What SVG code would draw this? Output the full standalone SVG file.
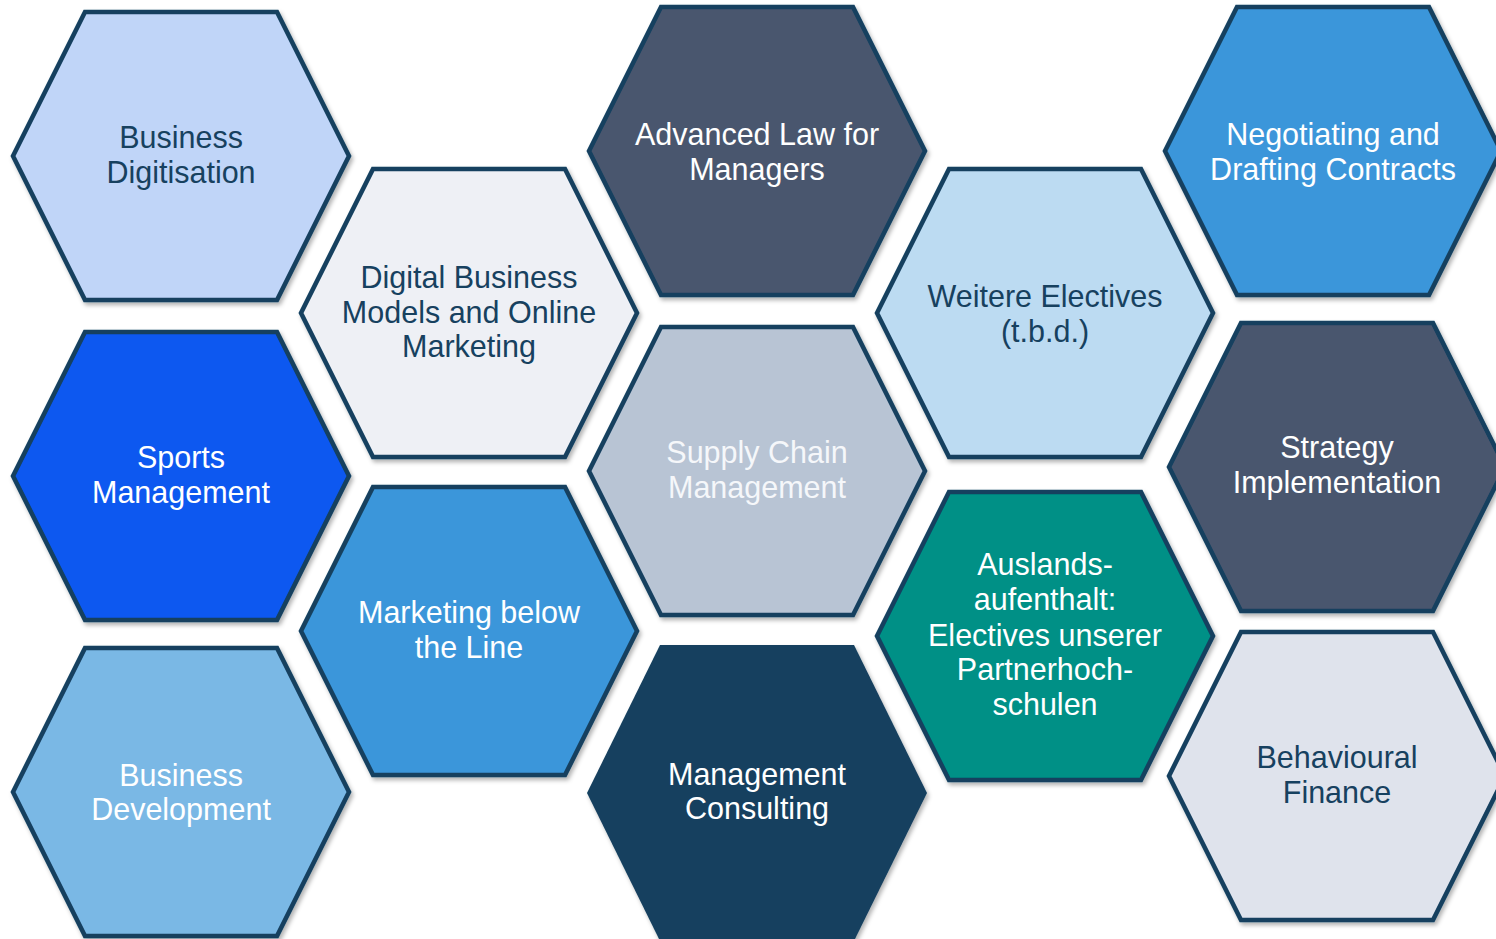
<svg xmlns="http://www.w3.org/2000/svg" xmlns:xlink="http://www.w3.org/1999/xlink" width="1496" height="939" viewBox="0 0 1496 939">
  <defs>
    <filter id="shadow" x="-10%" y="-10%" width="125%" height="125%">
      <feDropShadow dx="2" dy="3" stdDeviation="2.2" flood-color="#000000" flood-opacity="0.3"/>
    </filter>
    <polygon id="hex" points="-168,0 -96,-144 96,-144 168,0 96,144 -96,144"/>
    <polygon id="hex-ns" points="-170,0 -97,-148 97,-148 170,0 97,148 -97,148"/>
  </defs>
  <style>
    .hx { stroke: #143f5f; stroke-width: 4.5; stroke-linejoin: miter; filter: url(#shadow); }
    .hn { stroke: none; filter: url(#shadow); }
    text { font-family: "Liberation Sans", Arial, sans-serif; font-size: 30.5px; text-anchor: middle; }
    .dk { fill: #17415f; }
    .wt { fill: #ffffff; }
    .lt { fill: #f5f7fa; }
  </style>
  <rect width="1496" height="939" fill="#ffffff"/>

  <g id="connectors"></g>

  <g id="business-digitisation" transform="translate(181,156)">
    <use href="#hex" class="hx" fill="#c0d5f8"/>
    <text class="dk"><tspan x="0" y="-8">Business</tspan><tspan x="0" y="27">Digitisation</tspan></text>
  </g>

  <g id="sports-management" transform="translate(181,476)">
    <use href="#hex" class="hx" fill="#0b59f0"/>
    <text class="wt"><tspan x="0" y="-8">Sports</tspan><tspan x="0" y="27">Management</tspan></text>
  </g>

  <g id="business-development" transform="translate(181,792)">
    <use href="#hex" class="hx" fill="#7ab8e5"/>
    <text class="wt"><tspan x="0" y="-6">Business</tspan><tspan x="0" y="28">Development</tspan></text>
  </g>

  <g id="digital-business-models" transform="translate(469,313)">
    <use href="#hex" class="hx" fill="#eef0f5"/>
    <text class="dk"><tspan x="0" y="-25">Digital Business</tspan><tspan x="0" y="10">Models and Online</tspan><tspan x="0" y="44">Marketing</tspan></text>
  </g>

  <g id="marketing-below-the-line" transform="translate(469,631)">
    <use href="#hex" class="hx" fill="#3a96da"/>
    <text class="wt"><tspan x="0" y="-8">Marketing below</tspan><tspan x="0" y="27">the Line</tspan></text>
  </g>

  <g id="advanced-law" transform="translate(757,151)">
    <use href="#hex" class="hx" fill="#4a566e"/>
    <text class="wt"><tspan x="0" y="-6">Advanced Law for</tspan><tspan x="0" y="29">Managers</tspan></text>
  </g>

  <g id="supply-chain-management" transform="translate(757,471)">
    <use href="#hex" class="hx" fill="#b8c4d4"/>
    <text class="lt"><tspan x="0" y="-8">Supply Chain</tspan><tspan x="0" y="27">Management</tspan></text>
  </g>

  <g id="management-consulting" transform="translate(757,793)">
    <use href="#hex-ns" class="hn" fill="#15405f"/>
    <text class="wt"><tspan x="0" y="-8">Management</tspan><tspan x="0" y="26">Consulting</tspan></text>
  </g>

  <g id="weitere-electives" transform="translate(1045,313)">
    <use href="#hex" class="hx" fill="#bcdbf2"/>
    <text class="dk"><tspan x="0" y="-6">Weitere Electives</tspan><tspan x="0" y="29">(t.b.d.)</tspan></text>
  </g>

  <g id="auslandsaufenthalt" transform="translate(1045,636)">
    <use href="#hex" class="hx" fill="#009086"/>
    <text class="wt"><tspan x="0" y="-61">Auslands-</tspan><tspan x="0" y="-26">aufenthalt:</tspan><tspan x="0" y="10">Electives unserer</tspan><tspan x="0" y="44">Partnerhoch-</tspan><tspan x="0" y="79">schulen</tspan></text>
  </g>

  <g id="negotiating-drafting-contracts" transform="translate(1333,151)">
    <use href="#hex" class="hx" fill="#3a96da"/>
    <text class="wt"><tspan x="0" y="-6">Negotiating and</tspan><tspan x="0" y="29">Drafting Contracts</tspan></text>
  </g>

  <g id="strategy-implementation" transform="translate(1337,467)">
    <use href="#hex" class="hx" fill="#4a566e"/>
    <text class="wt"><tspan x="0" y="-9">Strategy</tspan><tspan x="0" y="26">Implementation</tspan></text>
  </g>

  <g id="behavioural-finance" transform="translate(1337,776)">
    <use href="#hex" class="hx" fill="#dfe3ec"/>
    <text class="dk"><tspan x="0" y="-8">Behavioural</tspan><tspan x="0" y="27">Finance</tspan></text>
  </g>
</svg>
